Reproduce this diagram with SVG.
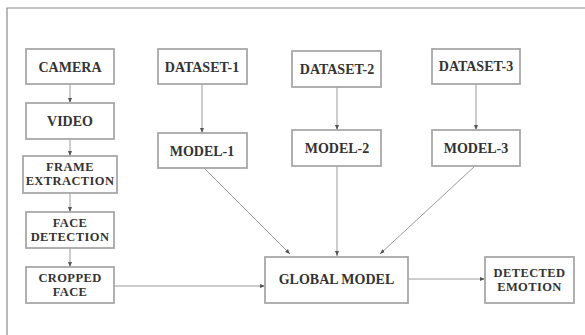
<svg xmlns="http://www.w3.org/2000/svg" width="585" height="335" viewBox="0 0 585 335">
<defs>
<marker id="ah" viewBox="0 0 10 10" refX="10" refY="5" markerWidth="5" markerHeight="5" orient="auto" markerUnits="userSpaceOnUse">
<path d="M0,1 L10,5 L0,9 Z" fill="#555"/>
</marker>
<style>
.box{fill:#fff;stroke:#a8a8a8;stroke-width:1.8}
.t{font-family:"Liberation Serif","Times New Roman",serif;font-weight:bold;font-size:14px;fill:#333;text-anchor:middle}
.s{font-size:12.5px;letter-spacing:0.4px}
.c{stroke:#9a9a9a;stroke-width:1;fill:none;marker-end:url(#ah)}
.frame{stroke:#8a8a8a;stroke-width:1.2;fill:none}
</style>
</defs>
<rect width="585" height="335" fill="#fff"/>
<path class="frame" d="M7,335 L7,8 L585,8"/>
<g id="connectors">
<line class="c" x1="70" y1="84" x2="70" y2="103"/>
<line class="c" x1="70" y1="139" x2="70" y2="156"/>
<line class="c" x1="70" y1="193" x2="70" y2="212"/>
<line class="c" x1="70" y1="248" x2="70" y2="267"/>
<line class="c" x1="202" y1="84" x2="202" y2="133"/>
<line class="c" x1="337" y1="87" x2="337" y2="130"/>
<line class="c" x1="476" y1="84" x2="476" y2="130"/>
<line class="c" x1="204" y1="168" x2="290" y2="254"/>
<line class="c" x1="337" y1="166" x2="337" y2="256"/>
<line class="c" x1="475" y1="166" x2="380" y2="254"/>
<line class="c" x1="114" y1="286" x2="265" y2="286"/>
<line class="c" x1="408" y1="279" x2="485" y2="279"/>
</g>
<g id="camera"><rect class="box" x="26" y="49" width="88" height="35"/><text class="t" x="70" y="72">CAMERA</text></g>
<g id="video"><rect class="box" x="26" y="103" width="88" height="36"/><text class="t" x="70" y="126">VIDEO</text></g>
<g id="frame-extraction"><rect class="box" x="23" y="156" width="94" height="37"/><text class="t s" x="70" y="171">FRAME</text><text class="t s" x="70" y="184.9">EXTRACTION</text></g>
<g id="face-detection"><rect class="box" x="26" y="212" width="88" height="36"/><text class="t s" x="70" y="226.8">FACE</text><text class="t s" x="70" y="240.7">DETECTION</text></g>
<g id="cropped-face"><rect class="box" x="26" y="267" width="88" height="36"/><text class="t s" x="70" y="282.3">CROPPED</text><text class="t s" x="70" y="296.2">FACE</text></g>
<g id="dataset-1"><rect class="box" x="158" y="49" width="89" height="35"/><text class="t" x="202" y="71.7">DATASET-1</text></g>
<g id="model-1"><rect class="box" x="158" y="133" width="89" height="35"/><text class="t" x="202" y="156">MODEL-1</text></g>
<g id="dataset-2"><rect class="box" x="292" y="51" width="89" height="36"/><text class="t" x="337" y="74">DATASET-2</text></g>
<g id="model-2"><rect class="box" x="292" y="130" width="89" height="36"/><text class="t" x="337" y="152.7">MODEL-2</text></g>
<g id="dataset-3"><rect class="box" x="432" y="49" width="88" height="35"/><text class="t" x="476" y="71">DATASET-3</text></g>
<g id="model-3"><rect class="box" x="432" y="130" width="88" height="36"/><text class="t" x="476" y="152.7">MODEL-3</text></g>
<g id="global-model"><rect class="box" x="265" y="257" width="143" height="46"/><text class="t" x="336.5" y="284.3">GLOBAL MODEL</text></g>
<g id="detected-emotion"><rect class="box" x="485" y="257" width="89" height="46"/><text class="t s" x="529.5" y="277.3">DETECTED</text><text class="t s" x="529.5" y="291.2">EMOTION</text></g>
</svg>
